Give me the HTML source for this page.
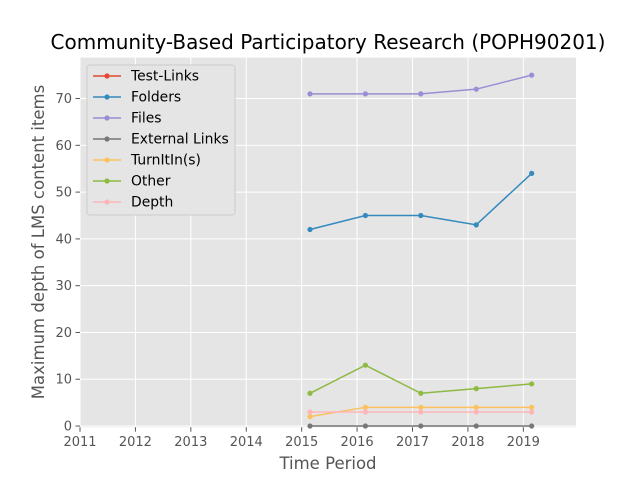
<!DOCTYPE html>
<html><head><meta charset="utf-8"><style>
body{margin:0;background:#fff;font-family:"DejaVu Sans","Liberation Sans",sans-serif}
svg text{font-family:"DejaVu Sans","Liberation Sans",sans-serif}
</style></head><body>
<svg id="chart" width="640" height="480" xmlns="http://www.w3.org/2000/svg">
<rect width="640" height="480" fill="#fff"/>
<text x="328" y="49" font-size="20" text-anchor="middle" fill="#000">Community-Based Participatory Research (POPH90201)</text>
<rect x="80" y="57.6" width="496" height="369.6" fill="#E5E5E5"/>
<g id="grid"></g><g id="ticks"></g><g id="series"></g>
<text x="328" y="469" font-size="16.5" text-anchor="middle" fill="#555">Time Period</text>
<text transform="translate(44,242) rotate(-90)" font-size="16.5" text-anchor="middle" fill="#555">Maximum depth of LMS content items</text>
<g id="legend"></g>
</svg>
<script>
const years=[2015.15,2016.15,2017.15,2018.15,2019.15];
const seriesNames=["Test-Links","Folders","Files","External Links","TurnItIn(s)","Other","Depth"];
const seriesColors=["#E24A33","#348ABD","#988ED5","#777777","#FBC15E","#8EBA42","#FFB5B8"];
const testLinks=[];
const folders=[42,45,45,43,54];
const files=[71,71,71,72,75];
const externalLinks=[0,0,0,0,0];
const turnitin=[2,4,4,4,4];
const other=[7,13,7,8,9];
const depth=[3,3,3,3,3];
const xTicks=[2011,2012,2013,2014,2015,2016,2017,2018,2019];
const yTicks=[0,10,20,30,40,50,60,70];
const allSeries=[testLinks,folders,files,externalLinks,turnitin,other,depth];
const NS="http://www.w3.org/2000/svg";
const yMin=-0.25,yMax=78.75;
function X(v){return 80+(v-2011)/(2019.95-2011)*496;}
function Y(v){return 427.2-(v-yMin)/(yMax-yMin)*369.6;}
function mk(t,a,p){const e=document.createElementNS(NS,t);for(const k in a)e.setAttribute(k,a[k]);p.appendChild(e);return e;}
const grid=document.getElementById('grid'),ticks=document.getElementById('ticks');
xTicks.forEach(t=>{const x=X(t);
 const g=mk('line',{x1:x,x2:x,y1:57.6,y2:427.2,stroke:'#fff','stroke-width':1},grid);
 
 mk('line',{x1:x,x2:x,y1:427.2,y2:431.7,stroke:'#555'},ticks);
 const l=mk('text',{x:x,y:446,'font-size':13,'text-anchor':'middle',fill:'#555'},ticks);l.textContent=t;
 });
yTicks.forEach(t=>{const y=Y(t);
 const g=mk('line',{x1:80,x2:576,y1:y,y2:y,stroke:'#fff','stroke-width':1},grid);
 
 mk('line',{x1:75.5,x2:80,y1:y,y2:y,stroke:'#555'},ticks);
 const l=mk('text',{x:72,y:y+4.5,'font-size':13,'text-anchor':'end',fill:'#555'},ticks);l.textContent=t;
 });
const sg=document.getElementById('series');
allSeries.forEach((s,i)=>{if(!s.length)return;
 const pl=mk('polyline',{points:s.map((v,j)=>X(years[j])+','+Y(v)).join(' '),fill:'none',stroke:seriesColors[i],'stroke-width':1.5},sg);
 
 s.forEach((v,j)=>{const c=mk('circle',{cx:X(years[j]),cy:Y(v),r:2.6,fill:seriesColors[i]},sg);
  });});
const lg=document.getElementById('legend');
const box=mk('rect',{x:87,y:65,width:148,height:150,fill:'#E5E5E5',stroke:'#ccc','stroke-width':1,rx:3},lg);

seriesNames.forEach((n,i)=>{const y=76+i*21;
 mk('line',{x1:93,x2:121,y1:y,y2:y,stroke:seriesColors[i],'stroke-width':1.5},lg);
 mk('circle',{cx:107,cy:y,r:2.6,fill:seriesColors[i]},lg);
 const t=mk('text',{x:131,y:y+4.5,'font-size':13.9,fill:'#000'},lg);t.textContent=n;
 });
</script>
</body></html>
